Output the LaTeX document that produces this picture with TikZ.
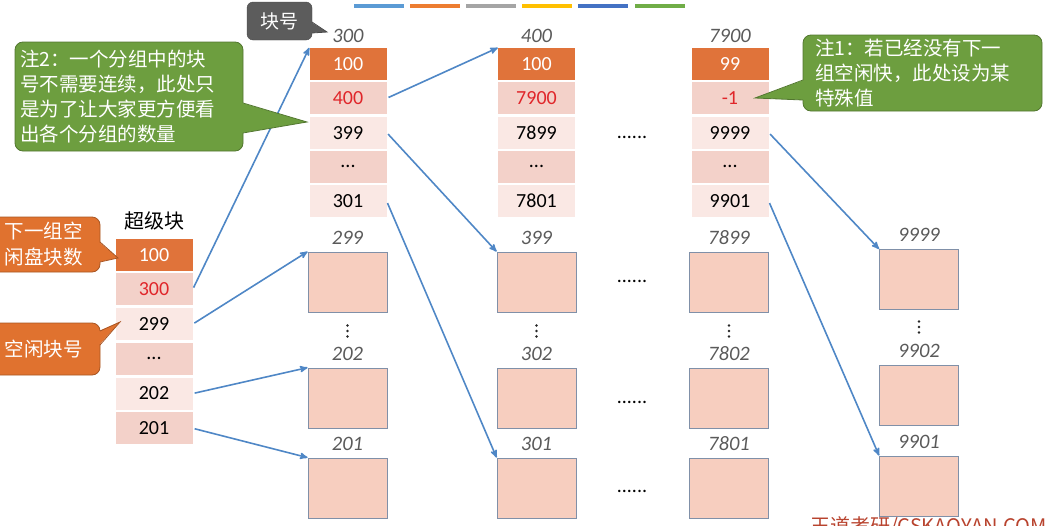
\documentclass[tikz,border=0pt]{standalone}
\usepackage{fontspec}
\setmainfont{Carlito}
\newfontfamily\cjk{Noto Sans CJK SC}
\usepackage{tikz}
\usetikzlibrary{arrows,positioning}

\definecolor{hdorange}{HTML}{E0733A}
\definecolor{dkpink}{HTML}{F3D1C9}
\definecolor{ltpink}{HTML}{FAE8E4}
\definecolor{blkpink}{HTML}{F7CEBF}
\definecolor{blkline}{HTML}{8090A8}
\definecolor{linkblue}{HTML}{4F87C6}
\definecolor{numred}{HTML}{E0262A}
\definecolor{taggray}{HTML}{5A5A5A}
\definecolor{notegreen}{HTML}{6D9E3F}
\definecolor{noteorange}{HTML}{E0722F}
\definecolor{notegray}{HTML}{5C5C5C}
\definecolor{wmred}{HTML}{B8432E}
\definecolor{bar1}{HTML}{5B9BD5}
\definecolor{bar2}{HTML}{ED7D31}
\definecolor{bar3}{HTML}{A5A5A5}
\definecolor{bar4}{HTML}{FFC000}
\definecolor{bar5}{HTML}{4472C4}
\definecolor{bar6}{HTML}{70AD47}

\begin{document}
\begin{tikzpicture}[x=1pt,y=-1pt,>=stealth',
    every node/.style={font=\fontsize{20}{24}\selectfont},
    cell/.style={minimum width=77pt,minimum height=32pt,inner sep=0pt},
    hd/.style={cell,fill=hdorange,text=white},
    rd/.style={cell,fill=dkpink,text=numred},
    dk/.style={cell,fill=dkpink},
    lt/.style={cell,fill=ltpink},
    blk/.style={draw=blkline,line width=0.8pt,fill=blkpink,minimum width=79pt,minimum height=60pt,inner sep=0pt},
    tag/.style={inner sep=0pt,text depth=0pt,text=taggray,font=\fontsize{20.5}{24}\selectfont\itshape},
    link/.style={->,draw=linkblue,line width=1.6pt,shorten <=2pt},
    note/.style={rounded corners=8pt,inner sep=0pt,text=white,align=left,
      font=\cjk\fontsize{19.5}{25}\selectfont}]

  \useasboundingbox (0,0) rectangle (1063,525);

  % theme bar
  \foreach \c/\xa in {bar1/354,bar2/410,bar3/466,bar4/522,bar5/578,bar6/635}
    \draw[line width=4pt,color=\c] (\xa,6) -- (\xa+50,6);

  % super block
  \node[font=\cjk\fontsize{20}{24}\selectfont] (sbt) at (154,221) {超级块};
  \node[hd] (sb1) at (154,254.75) {100};
  \node[rd, below=2.3pt of sb1] (sb2) {300};
  \node[lt, below=2.3pt of sb2] (sb3) {299};
  \node[dk, below=2.3pt of sb3] (sb4) {...};
  \node[lt, below=2.3pt of sb4] (sb5) {202};
  \node[dk, below=2.3pt of sb5] (sb6) {201};

  % first group blocks
  \node[hd] (p1) at (348,64) {100};
  \node[rd, below=1.9pt of p1] (p2) {400};
  \node[lt, below=1.9pt of p2] (p3) {399};
  \node[dk, below=1.9pt of p3] (p4) {...};
  \node[lt, below=1.9pt of p4] (p5) {301};
  \node[tag, above=5pt of p1] (p0) {300};

  \node[hd] (q1) at (536.5,64) {100};
  \node[rd, below=1.9pt of q1] (q2) {7900};
  \node[lt, below=1.9pt of q2] (q3) {7899};
  \node[dk, below=1.9pt of q3] (q4) {...};
  \node[lt, below=1.9pt of q4] (q5) {7801};
  \node[tag, above=5pt of q1] (q0) {400};

  \node[hd] (r1) at (730,64) {99};
  \node[rd, below=1.9pt of r1] (r2) {-1};
  \node[lt, below=1.9pt of r2] (r3) {9999};
  \node[dk, below=1.9pt of r3] (r4) {...};
  \node[lt, below=1.9pt of r4] (r5) {9901};
  \node[tag, above=5pt of r1] (r0) {7900};

  % free blocks
  \node[blk] (a1) at (347.5,282) {};
  \node[blk] (a2) at (347.5,398) {};
  \node[blk] (a3) at (347.5,488) {};
  \node[blk] (b1) at (536.5,282) {};
  \node[blk] (b2) at (536.5,398) {};
  \node[blk] (b3) at (536.5,488) {};
  \node[blk] (c1) at (729,282) {};
  \node[blk] (c2) at (729,398) {};
  \node[blk] (c3) at (729,488) {};
  \node[blk] (d1) at (919,279.5) {};
  \node[blk] (d2) at (919,395) {};
  \node[blk] (d3) at (919,486) {};
  \foreach \n/\t in {a1/299,a2/202,a3/201,b1/399,b2/302,b3/301,c1/7899,c2/7802,c3/7801,d1/9999,d2/9902,d3/9901}
    \node[tag, above=7pt of \n] (\n l) {\t};

  % vertical dots
  \foreach \xd/\yd in {347.5/331,536.5/331,729/331,919/327}
    \foreach \k in {-5.5,0,5.5}
      \fill[black!85] (\xd,\yd+\k) circle (1.3pt);
  \foreach \y [count=\i] in {138,282,403,492}
    \node[anchor=base] (h\i) at (632,\y) {......};

  % pointers
  \draw[link] (sb2.east) -- (p1.north west);
  \draw[link] (sb3.east) -- (a1.north west);
  \draw[link] (sb5.east) -- (a2.north west);
  \draw[link] (sb6.east) -- (a3.north west);
  \draw[link] (p2.east) -- (q1.north west);
  \draw[link] (p3.east) -- (b1.north west);
  \draw[link] (p5.east) -- (b3.north west);
  \draw[link] (r3.east) -- (d1.north west);
  \draw[link] (r5.east) -- (d3.north west);

  % callouts
  \node[note, fill=notegray, draw=notegray!80!black, minimum width=65pt, minimum height=38pt,
    rounded corners=6pt, font=\cjk\fontsize{19}{24}\selectfont, align=center] (kh) at (279.5,21) {块号};
  \coordinate (khtip) at (327,32);
  \fill[notegray] (311,22) -- (khtip) -- (311,33) -- cycle;
  \draw[notegray!80!black, line width=0.8pt] (312,22) -- (khtip) -- (312,33);

  \node[note, fill=notegreen, draw=notegreen!75!black, line width=0.8pt, minimum width=228pt,
    minimum height=109pt, text width=218pt] (n2) at (129,96.5)
    {注2：一个分组中的块\\号不需要连续，此处只\\是为了让大家更方便看\\出各个分组的数量};
  \coordinate (n2tip) at (307,122);
  \fill[notegreen] (242,103) -- (n2tip) -- (242,133) -- cycle;
  \draw[notegreen!75!black, line width=0.8pt] (243,103) -- (n2tip) -- (243,133);

  \node[note, fill=notegreen, draw=notegreen!75!black, line width=0.8pt, minimum width=239pt,
    minimum height=76pt, text width=215pt] (n1) at (922.5,73)
    {注1：若已经没有下一\\组空闲快，此处设为某\\特殊值};
  \coordinate (n1tip) at (755,98);
  \fill[notegreen] (804,80) -- (n1tip) -- (804,100) -- cycle;
  \draw[notegreen!75!black, line width=0.8pt] (803,80) -- (n1tip) -- (803,100);

  \node[note, fill=noteorange, draw=noteorange!75!black, line width=0.8pt, minimum width=110pt,
    minimum height=55pt, text width=80pt, font=\cjk\fontsize{19.5}{26}\selectfont] (o1) at (45,244.5)
    {下一组空\\闲盘块数};
  \coordinate (o1tip) at (118,258);
  \fill[noteorange] (99,242) -- (o1tip) -- (99,262) -- cycle;
  \draw[noteorange!75!black, line width=0.8pt] (100,242) -- (o1tip) -- (100,262);

  \node[note, fill=noteorange, draw=noteorange!75!black, line width=0.8pt, minimum width=110pt,
    minimum height=52pt, text width=80pt] (o2) at (45,349) {空闲块号};
  \coordinate (o2tip) at (120,322);
  \fill[noteorange] (99,331) -- (o2tip) -- (99,345) -- cycle;
  \draw[noteorange!75!black, line width=0.8pt] (100,331) -- (o2tip) -- (100,345);

  \node[anchor=north west, inner sep=0pt, text=wmred, font=\cjk\fontsize{20}{24}\selectfont] (wm)
    at (810,516) {王道考研/CSKAOYAN.COM};
\end{tikzpicture}
\end{document}
